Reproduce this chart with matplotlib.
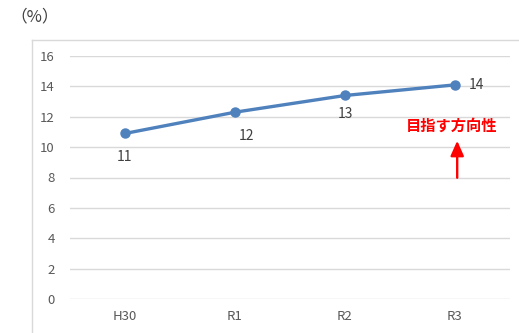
import matplotlib
matplotlib.use("Agg")
import matplotlib.pyplot as plt
from matplotlib.lines import Line2D

plt.rcParams['font.family'] = ['Noto Sans CJK JP', 'DejaVu Sans']

categories = ["H30", "R1", "R2", "R3"]
values = [10.9, 12.3, 13.4, 14.1]
labels = ["11", "12", "13", "14"]
yticks = [0, 2, 4, 6, 8, 10, 12, 14, 16]

W, H = 519, 333
fig = plt.figure(figsize=(W / 100, H / 100), dpi=100)

# chart area border (partially visible)
fig.add_artist(Line2D([32 / W, 32 / W], [0, 1 - 40 / H], color="#d9d9d9", lw=1))
fig.add_artist(Line2D([32 / W, 1], [1 - 40 / H, 1 - 40 / H], color="#d9d9d9", lw=1))

ax = fig.add_axes([70 / W, 1 - 299 / H, 440 / W, (299 - 56) / H])
x = list(range(len(categories)))
ax.set_xlim(-0.5, len(categories) - 0.5)
ax.set_ylim(0, 16)
ax.set_yticks(yticks)
ax.set_xticks(x)
ax.set_xticklabels(categories)
ax.grid(axis="y", color="#d9d9d9", lw=1)
ax.set_axisbelow(True)
for s in ax.spines.values():
    s.set_visible(False)
ax.tick_params(length=0, colors="#595959", labelsize=9.5)
ax.tick_params(axis="y", pad=11)
ax.tick_params(axis="x", pad=8)

ax.plot(x, values, color="#4f81bd", lw=2.4, marker="o", ms=6.5, zorder=3)

offsets = [(0, -12, "center", "top"), (8, -12, "center", "top"),
           (0, -8, "center", "top"), (10, 0, "left", "center")]
for xi, v, lab, (dx, dy, ha, va) in zip(x, values, labels, offsets):
    ax.annotate(lab, (xi, v), xytext=(dx, dy), textcoords="offset points",
                ha=ha, va=va, fontsize=10, color="#404040")

# arrow
ax.annotate("", xy=(3.02, 10.6), xytext=(3.02, 7.8),
            arrowprops=dict(arrowstyle="-|>,head_width=0.4,head_length=0.9",
                            color="red", lw=1.7))
ax.text(2.97, 11.4, "目指す方向性", color="red", fontsize=11, fontweight="bold",
        ha="center", va="center")

fig.text(10 / W, 1 - 17 / H, "（%）", fontsize=12, color="#404040",
         ha="left", va="center")

fig.savefig("out.png", dpi=100)
